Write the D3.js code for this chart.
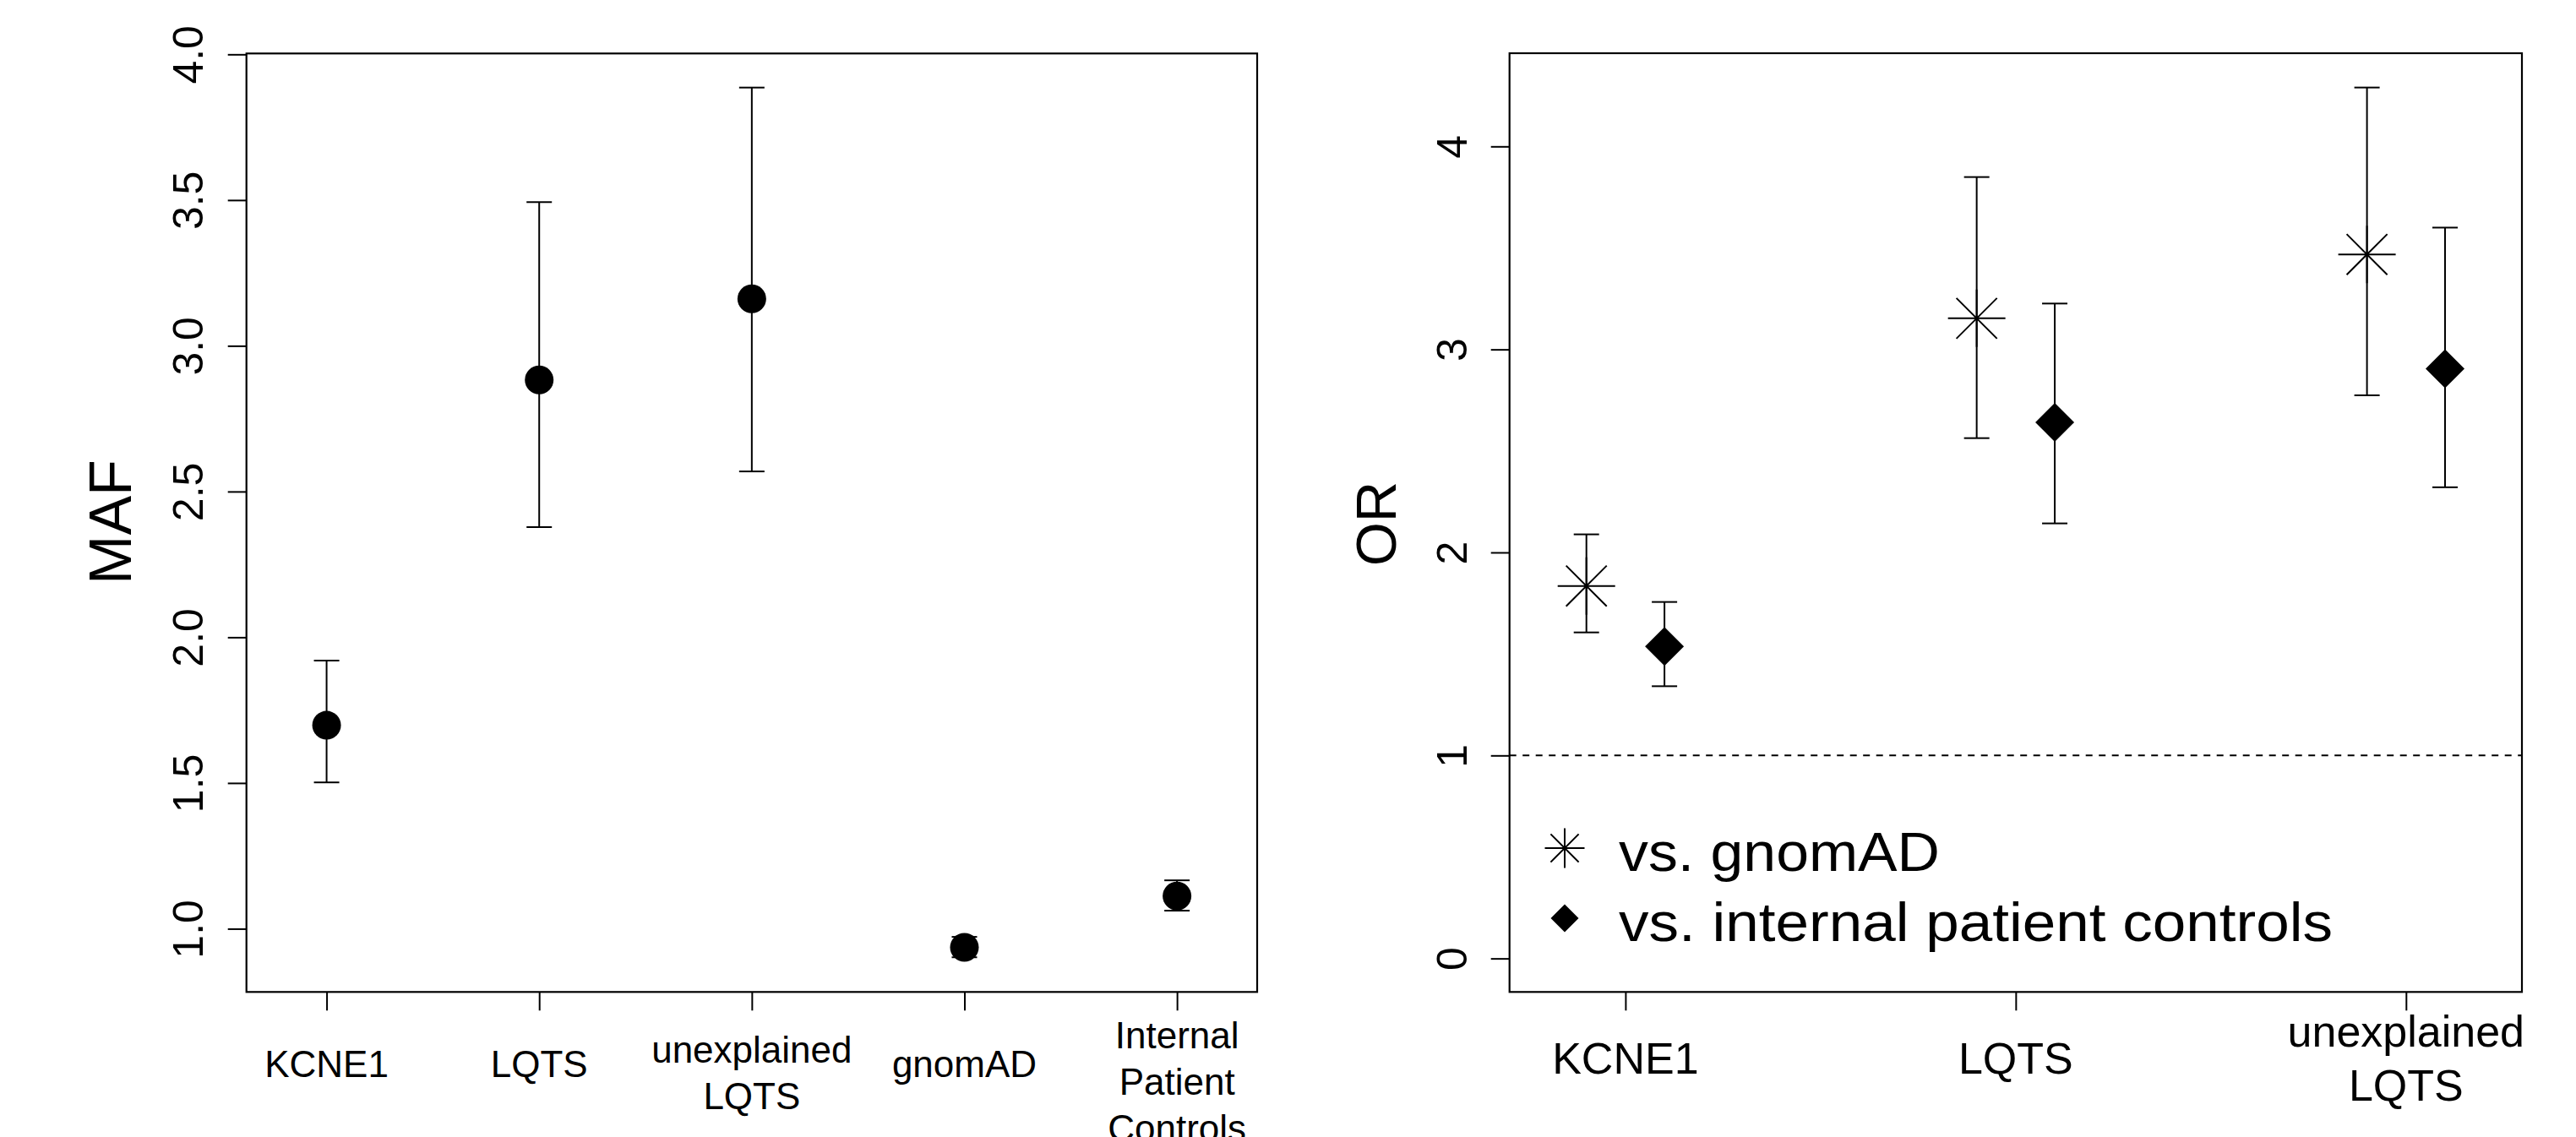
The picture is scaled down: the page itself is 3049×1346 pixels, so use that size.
<!DOCTYPE html>
<html lang="en">
<head>
  <meta charset="UTF-8">
  <title>MAF and OR</title>
  <script src="https://d3js.org/d3.v7.min.js"></script>
  <style>
    body { margin: 0; background: #fff; }
    text { font-family: "Liberation Sans", Arial, Helvetica, sans-serif; fill: #000; }
  </style>
</head>
<body>
  <div id="chart"></div>
  <script>
    // left panel: MAF per group
    const mafGroups = ["KCNE1", "LQTS", "unexplained\nLQTS", "gnomAD", "Internal\nPatient\nControls"];
    const mafEst   = [1.698, 2.883, 3.161, 0.936, 1.112];
    const mafLower = [1.502, 2.378, 2.569, 0.902, 1.062];
    const mafUpper = [1.920, 3.493, 3.886, 0.972, 1.166];
    const mafTicks = [1.0, 1.5, 2.0, 2.5, 3.0, 3.5, 4.0];

    // right panel: odds ratios
    const orGroups = ["KCNE1", "LQTS", "unexplained\nLQTS"];
    const orGnomad        = [1.835, 3.153, 3.468];
    const orGnomadLower   = [1.606, 2.563, 2.774];
    const orGnomadUpper   = [2.089, 3.849, 4.290];
    const orInternal      = [1.537, 2.641, 2.905];
    const orInternalLower = [1.341, 2.143, 2.321];
    const orInternalUpper = [1.756, 3.226, 3.600];
    const orTicks = [0, 1, 2, 3, 4];
    const legendLabels = ["vs. gnomAD", "vs. internal patient controls"];

    const width = 3049, height = 1346;
    const svg = d3.select("#chart").append("svg")
      .attr("width", width)
      .attr("height", height);
    svg.append("rect").attr("width", width).attr("height", height).attr("fill", "#fff");

    // pch 8 style: "+" and "x" on top of each other
    function starPath(r) {
      const p = d3.path();
      for (let k = 0; k < 4; k++) {
        const a = k * Math.PI / 4;
        p.moveTo(-r * Math.cos(a), -r * Math.sin(a));
        p.lineTo(r * Math.cos(a), r * Math.sin(a));
      }
      return p.toString();
    }

    function errorBar(g, x, lo, hi, cap) {
      g.append("line").attr("x1", x).attr("x2", x).attr("y1", lo).attr("y2", hi);
      g.append("line").attr("x1", x - cap).attr("x2", x + cap).attr("y1", lo).attr("y2", lo);
      g.append("line").attr("x1", x - cap).attr("x2", x + cap).attr("y1", hi).attr("y2", hi);
    }

    function frame(x, y, yTicks, labelX, fmt) {
      const [x0, x1] = x.range();
      const [y0, y1] = y.range();
      svg.append("rect")
        .attr("x", x0).attr("y", y1)
        .attr("width", x1 - x0).attr("height", y0 - y1)
        .attr("fill", "none").attr("stroke", "#000").attr("stroke-width", 2.2);

      const yAxis = svg.append("g")
        .attr("transform", `translate(${x0},0)`)
        .call(d3.axisLeft(y).tickValues(yTicks).tickSize(22).tickFormat(fmt));
      yAxis.select(".domain").remove();
      yAxis.selectAll(".tick line").attr("stroke", "#000").attr("stroke-width", 2);
      yAxis.selectAll(".tick text")
        .attr("x", 0).attr("dy", 0)
        .attr("transform", `translate(${labelX},0) rotate(-90)`)
        .attr("text-anchor", "middle")
        .attr("font-size", 50)
        .attr("font-family", "Liberation Sans, Arial, sans-serif")
        .attr("fill", "#000");
    }

    function xAxisTicks(x, y, n) {
      const g = svg.append("g")
        .attr("transform", `translate(0,${y.range()[0]})`)
        .call(d3.axisBottom(x).tickValues(d3.range(1, n + 1)).tickSize(22).tickFormat(""));
      g.select(".domain").remove();
      g.selectAll(".tick line").attr("stroke", "#000").attr("stroke-width", 2);
    }

    function groupLabels(x, groups, base, step, shift, size) {
      groups.forEach((name, i) => {
        const lines = name.split("\n");
        const t = svg.append("text")
          .attr("text-anchor", "middle")
          .attr("font-size", size);
        lines.forEach((ln, j) => {
          t.append("tspan")
            .attr("x", x(i + 1))
            .attr("y", base - shift * (lines.length - 1) + j * step)
            .text(ln);
        });
      });
    }

    // ---------- left panel ----------
    const xMaf = d3.scaleLinear().domain([0.623, 5.377]).range([291.7, 1488]);
    const yMaf = d3.scaleLinear().domain([0.783, 4.003]).range([1174.3, 63.3]);

    frame(xMaf, yMaf, mafTicks, -52, d3.format(".1f"));
    xAxisTicks(xMaf, yMaf, mafGroups.length);
    groupLabels(xMaf, mafGroups, 1275, 55, 17, 44);

    svg.append("text")
      .attr("transform", `translate(155,618) rotate(-90)`)
      .attr("text-anchor", "middle")
      .attr("font-size", 70)
      .text("MAF");

    const gMaf = svg.append("g").attr("stroke", "#000").attr("stroke-width", 2);
    mafEst.forEach((v, i) => {
      errorBar(gMaf, xMaf(i + 1), yMaf(mafLower[i]), yMaf(mafUpper[i]), 15);
    });
    svg.append("g").selectAll("circle")
      .data(mafEst)
      .enter()
      .append("circle")
      .attr("cx", (d, i) => xMaf(i + 1))
      .attr("cy", d => yMaf(d))
      .attr("r", 17)
      .attr("fill", "#000");

    // ---------- right panel ----------
    const xOr = d3.scaleLinear().domain([0.703, 3.297]).range([1786.7, 2985]);
    const yOr = d3.scaleLinear().domain([-0.165, 4.459]).range([1174.3, 63]);
    const off = 0.1;

    frame(xOr, yOr, orTicks, -51, d3.format("d"));
    xAxisTicks(xOr, yOr, orGroups.length);
    groupLabels(xOr, orGroups, 1271.4, 64, 32, 52);

    svg.append("text")
      .attr("transform", `translate(1652,620) rotate(-90)`)
      .attr("text-anchor", "middle")
      .attr("font-size", 67)
      .text("OR");

    svg.append("line")
      .attr("x1", xOr.range()[0]).attr("x2", xOr.range()[1])
      .attr("y1", yOr(1)).attr("y2", yOr(1))
      .attr("stroke", "#000").attr("stroke-width", 2)
      .attr("stroke-dasharray", "8,7.5");

    const gOr = svg.append("g").attr("stroke", "#000").attr("stroke-width", 2);
    orGnomad.forEach((v, i) => {
      errorBar(gOr, xOr(i + 1 - off), yOr(orGnomadLower[i]), yOr(orGnomadUpper[i]), 15);
      errorBar(gOr, xOr(i + 1 + off), yOr(orInternalLower[i]), yOr(orInternalUpper[i]), 15);
    });

    svg.append("g").selectAll("path")
      .data(orGnomad)
      .enter()
      .append("path")
      .attr("transform", (d, i) => `translate(${xOr(i + 1 - off)},${yOr(d)})`)
      .attr("d", starPath(34))
      .attr("stroke", "#000").attr("stroke-width", 2).attr("fill", "none");

    const diamond = d3.symbol(d3.symbolSquare, 1058);
    svg.append("g").selectAll("path")
      .data(orInternal)
      .enter()
      .append("path")
      .attr("transform", (d, i) => `translate(${xOr(i + 1 + off)},${yOr(d)}) rotate(45)`)
      .attr("d", diamond())
      .attr("fill", "#000");

    // legend
    const legend = svg.append("g");
    legend.append("path")
      .attr("transform", "translate(1852,1004)")
      .attr("d", starPath(23.5))
      .attr("stroke", "#000").attr("stroke-width", 2).attr("fill", "none");
    legend.append("path")
      .attr("transform", "translate(1852,1087) rotate(45)")
      .attr("d", d3.symbol(d3.symbolSquare, 545)())
      .attr("fill", "#000");
    const legendWidths = [380, 845];
    legendLabels.forEach((lab, i) => {
      legend.append("text")
        .attr("x", 1916)
        .attr("y", 1031 + i * 83)
        .attr("font-size", 65)
        .attr("textLength", legendWidths[i])
        .attr("lengthAdjust", "spacingAndGlyphs")
        .text(lab);
    });
  </script>
</body>
</html>
